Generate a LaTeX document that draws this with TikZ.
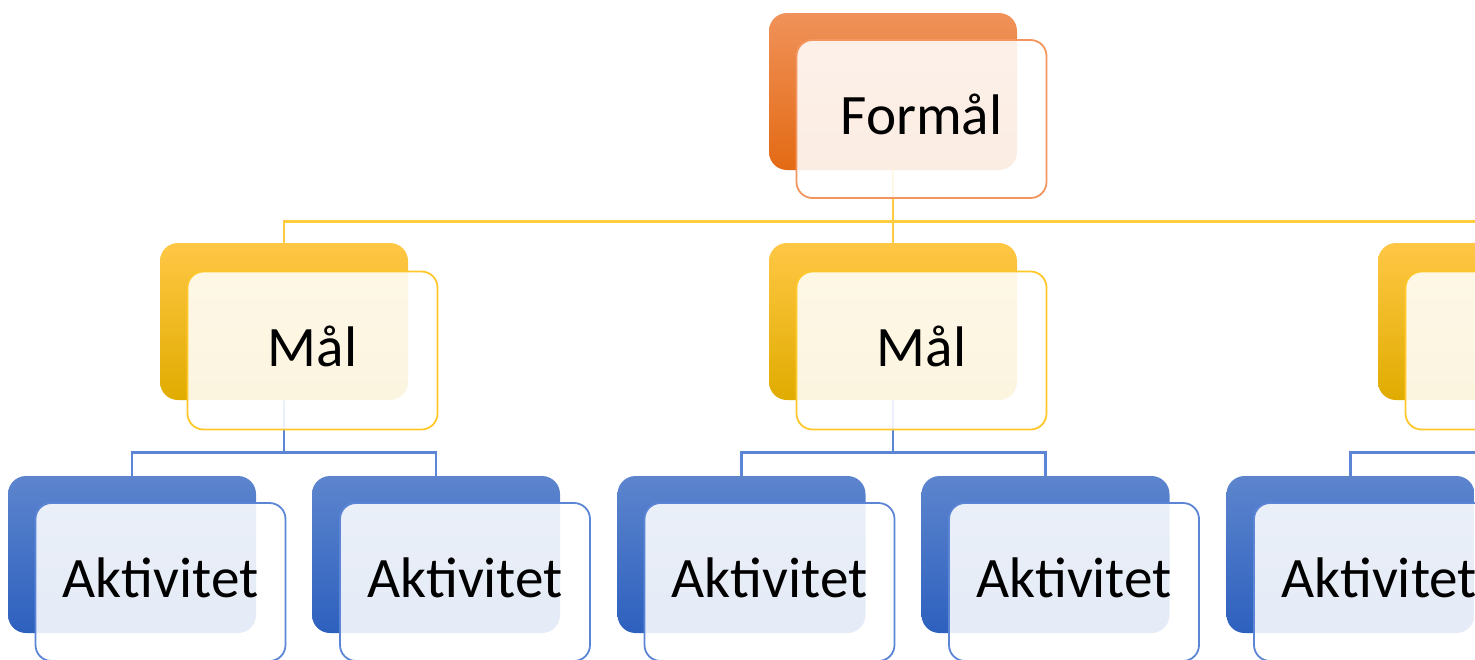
\documentclass[tikz,border=0pt]{standalone}
\usepackage{fontspec}
\setmainfont{Carlito}

\definecolor{oransjeTopp}{HTML}{F0925A}
\definecolor{oransjeBunn}{HTML}{E36A14}
\definecolor{oransjeKant}{HTML}{F2955E}
\definecolor{gulTopp}{HTML}{FFC745}
\definecolor{gulMidt}{HTML}{FFC000}
\definecolor{gulBunn}{HTML}{E0AC00}
\definecolor{gulKant}{HTML}{FFC82A}
\definecolor{blaaTopp}{HTML}{5D85CE}
\definecolor{blaaBunn}{HTML}{2D60BE}
\definecolor{blaaKant}{HTML}{5C85D6}

\begin{document}
\begin{tikzpicture}[x=0.5pt, y=-0.5pt]
    \useasboundingbox (0,0) rectangle (1475,659);
    \clip (0,0) rectangle (1475,659);

    \tikzset{BakStyle/.style={rectangle, rounded corners=9pt, inner sep=0pt,
                              minimum width=124pt, minimum height=78.5pt}}
    \tikzset{ForStyle/.style={rectangle, rounded corners=8pt, inner sep=0pt,
                              minimum width=125pt, minimum height=79pt, text depth=4.5pt,
                              fill=white, fill opacity=0.88, text opacity=1,
                              line width=0.9pt, font=\fontsize{28.6}{34}\selectfont}}
    \tikzset{GulLinje/.style={draw=gulKant!90, line width=1.2pt}}
    \tikzset{BlaaLinje/.style={draw=blaaKant, line width=1.2pt}}

    % bakre bokser
    \node[BakStyle, top color=oransjeTopp, bottom color=oransjeBunn] (formaalbak) at (893,91.5) {};

    \tikzset{BakStyle/.append style={top color=gulTopp, middle color=gulMidt, bottom color=gulBunn}}
    \node[BakStyle] (maal1bak) at (284,321.5) {};
    \node[BakStyle] (maal2bak) at (893,321.5) {};
    \node[BakStyle] (maal3bak) at (1502,321.5) {};

    \tikzset{BakStyle/.append style={top color=blaaTopp, middle color=blaaTopp!50!blaaBunn, bottom color=blaaBunn}}
    \node[BakStyle] (akt1bak) at (132,554.5) {};
    \node[BakStyle] (akt2bak) at (436,554.5) {};
    \node[BakStyle] (akt3bak) at (741.5,554.5) {};
    \node[BakStyle] (akt4bak) at (1045.5,554.5) {};
    \node[BakStyle] (akt5bak) at (1350.5,554.5) {};
    \coordinate (akt6topp) at (1655,476);

    % linjer
    \draw[GulLinje] (formaalbak.south) -- ++(0,51) -| (maal1bak.north);
    \draw[GulLinje] (formaalbak.south) -- ++(0,51) -| (maal2bak.north);
    \draw[GulLinje] (formaalbak.south) -- ++(0,51) -| (maal3bak.north);

    \draw[BlaaLinje] (maal1bak.south) -- ++(0,52) -| (akt1bak.north);
    \draw[BlaaLinje] (maal1bak.south) -- ++(0,52) -| (akt2bak.north);
    \draw[BlaaLinje] (maal2bak.south) -- ++(0,52) -| (akt3bak.north);
    \draw[BlaaLinje] (maal2bak.south) -- ++(0,52) -| (akt4bak.north);
    \draw[BlaaLinje] (maal3bak.south) -- ++(0,52) -| (akt5bak.north);
    \draw[BlaaLinje] (maal3bak.south) -- ++(0,52) -| (akt6topp);

    % fremre bokser
    \node[ForStyle, draw=oransjeKant] (formaal) at (921.5,119) {Formål};

    \tikzset{ForStyle/.append style={draw=gulKant}}
    \node[ForStyle] (maal1) at (312.5,350.5) {Mål};
    \node[ForStyle] (maal2) at (921.5,350.5) {Mål};
    \node[ForStyle] (maal3) at (1530.5,350.5) {};

    \tikzset{ForStyle/.append style={draw=blaaKant}}
    \node[ForStyle] (akt1) at (160.5,582) {Aktivitet};
    \node[ForStyle] (akt2) at (465,582) {Aktivitet};
    \node[ForStyle] (akt3) at (769.5,582) {Aktivitet};
    \node[ForStyle] (akt4) at (1074,582) {Aktivitet};
    \node[ForStyle] (akt5) at (1379,582) {Aktivitet};
\end{tikzpicture}
\end{document}
